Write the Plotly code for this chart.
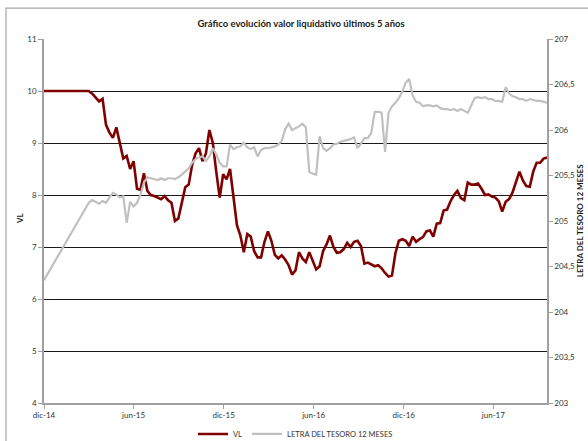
import pandas as pd
import plotly.graph_objects as go

# Weekly observation dates
fechas = pd.date_range("2014-12-01", periods=147, freq="7D")

# Valor liquidativo del fondo (eje izquierdo)
vl = [
    10.0, 10.0, 10.0, 10.0, 10.0, 10.0, 10.0, 10.0, 10.0, 10.0,
    10.0, 10.0, 10.0, 10.0, 9.95, 9.88, 9.8, 9.85, 9.35, 9.2,
    9.1, 9.3, 9.0, 8.7, 8.75, 8.5, 8.65, 8.12, 8.1, 8.42,
    8.08, 8.0, 7.98, 7.95, 7.92, 7.98, 7.9, 7.85, 7.5, 7.55,
    7.88, 8.15, 8.2, 8.58, 8.8, 8.9, 8.65, 8.8, 9.25, 9.0,
    8.45, 7.95, 8.4, 8.3, 8.5, 7.9, 7.42, 7.22, 6.9, 7.25,
    7.2, 6.92, 6.8, 6.8, 7.1, 7.3, 7.12, 6.85, 6.78, 6.84,
    6.76, 6.65, 6.47, 6.55, 6.9, 6.78, 6.71, 6.9, 6.73, 6.57,
    6.63, 6.92, 7.05, 7.22, 7.0, 6.89, 6.9, 6.96, 7.08, 7.0,
    7.1, 7.12, 7.02, 6.68, 6.7, 6.66, 6.63, 6.65, 6.59, 6.5,
    6.43, 6.45, 6.88, 7.12, 7.15, 7.12, 7.02, 7.2, 7.1, 7.15,
    7.19, 7.3, 7.32, 7.2, 7.45, 7.46, 7.7, 7.72, 7.88, 8.0,
    8.08, 7.94, 7.9, 8.24, 8.2, 8.2, 8.22, 8.12, 8.0, 8.01,
    7.97, 7.95, 7.88, 7.68, 7.87, 7.92, 8.05, 8.25, 8.45, 8.28,
    8.17, 8.16, 8.45, 8.62, 8.62, 8.7, 8.72,
]

# Letra del Tesoro 12 meses (eje derecho); None = sin dato
letra = [
    204.35, None, None, None, None, None, None, None, None, None,
    None, None, None, 205.20, 205.23, 205.21, 205.19, 205.22, 205.20, 205.26,
    205.31, 205.29, 205.26, 205.27, 204.98, 205.21, 205.16, 205.20, 205.29, 205.42,
    205.48, 205.47, 205.46, 205.45, 205.47, 205.45, 205.47, 205.47, 205.46, 205.48,
    205.51, 205.54, 205.58, 205.64, 205.68, 205.70, 205.71, 205.66, 205.71, 205.80,
    205.73, 205.64, 205.60, 205.60, 205.84, 205.79, 205.81, 205.82, 205.86, 205.81,
    205.79, 205.81, 205.71, 205.78, 205.80, 205.80, 205.81, 205.82, 205.84, 205.88,
    206.01, 206.07, 206.00, 206.02, 206.04, 206.07, 206.03, 205.54, 205.52, 205.51,
    205.93, 205.80, 205.77, 205.80, 205.84, 205.85, 205.87, 205.88, 205.89, 205.90,
    205.92, 205.80, 205.85, 205.91, 205.91, 205.97, 206.20, 206.20, 206.19, 205.76,
    206.19, 206.26, 206.30, 206.35, 206.42, 206.52, 206.56, 206.38, 206.31, 206.30,
    206.26, 206.27, 206.27, 206.26, 206.27, 206.24, 206.23, 206.23, 206.22, 206.23,
    206.21, 206.23, 206.21, 206.19, 206.27, 206.35, 206.36, 206.35, 206.36, 206.34,
    206.34, 206.32, 206.32, 206.31, 206.47, 206.40, 206.37, 206.36, 206.34, 206.34,
    206.32, 206.34, 206.33, 206.32, 206.32, 206.31, 206.30,
]

tick_fechas = ["2014-12-01", "2015-06-01", "2015-12-01", "2016-06-01", "2016-12-01", "2017-06-01"]
tick_textos = ["dic-14", "jun-15", "dic-15", "jun-16", "dic-16", "jun-17"]

FONT = "Lato"
AXIS_GREY = "#a0a0a0"
TXT = "#333333"

fig = go.Figure()
fig.add_trace(go.Scatter(
    x=fechas, y=vl, name="VL", mode="lines",
    line=dict(color="#800000", width=2.6),
))
fig.add_trace(go.Scatter(
    x=fechas, y=letra, name="LETRA DEL TESORO 12 MESES", mode="lines",
    line=dict(color="#c0c0c0", width=2.2), connectgaps=True, yaxis="y2",
))

fig.update_layout(
    width=588, height=441,
    margin=dict(l=44, r=41, t=39, b=38, autoexpand=False),
    paper_bgcolor="white", plot_bgcolor="white",
    separators=",.",
    font=dict(family=FONT, size=8, color=TXT),
    showlegend=True,
    title=dict(
        text="<b>Gráfico evolución valor liquidativo últimos 5 años</b>",
        x=0.512, xref="container", xanchor="center",
        y=1 - 24 / 441, yref="container", yanchor="middle",
        font=dict(family=FONT, size=9.5, color="#1a1a1a"),
    ),
    legend=dict(
        orientation="h", x=0.5, xanchor="center", y=-0.085, yanchor="middle",
        font=dict(family=FONT, size=7.5, color=TXT),
        itemwidth=30, tracegroupgap=0, bgcolor="rgba(0,0,0,0)",
    ),
    xaxis=dict(
        type="date", range=["2014-12-01", fechas[-1]],
        tickvals=tick_fechas, ticktext=tick_textos,
        showgrid=False, showline=True, linecolor=AXIS_GREY, linewidth=1.5,
        ticks="outside", ticklen=4, tickcolor=AXIS_GREY, zeroline=False,
        tickfont=dict(family=FONT, size=8, color=TXT),
    ),
    yaxis=dict(
        range=[4, 11], dtick=1, tick0=4,
        showgrid=True, gridcolor="#1a1a1a", gridwidth=1,
        showline=True, linecolor=AXIS_GREY, linewidth=1.5,
        ticks="outside", ticklen=4, tickcolor=AXIS_GREY, zeroline=False,
        tickfont=dict(family=FONT, size=8, color=TXT),
    ),
    yaxis2=dict(
        range=[203, 207], dtick=0.5, tick0=203, overlaying="y", side="right",
        showgrid=False, showline=True, linecolor=AXIS_GREY, linewidth=1.5,
        ticks="outside", ticklen=4, tickcolor=AXIS_GREY, zeroline=False,
        tickfont=dict(family=FONT, size=8, color=TXT),
    ),
    annotations=[
        dict(text="<b>VL</b>", textangle=-90, x=-0.048, xref="paper",
             y=0.508, yref="paper", showarrow=False, xanchor="center", yanchor="middle",
             font=dict(family=FONT, size=8, color="#1a1a1a")),
        dict(text="<b>LETRA DEL TESORO 12 MESES</b>", textangle=-90, x=1.066, xref="paper",
             y=0.5, yref="paper", showarrow=False, xanchor="center", yanchor="middle",
             font=dict(family=FONT, size=8, color="#1a1a1a")),
    ],
    shapes=[
        dict(type="rect", xref="paper", yref="paper",
             x0=-0.0755, y0=-0.3, x1=1.3, y1=1.085,
             line=dict(color="#a6a6a6", width=1.2), layer="below"),
    ],
)

fig.write_html("out.html")
